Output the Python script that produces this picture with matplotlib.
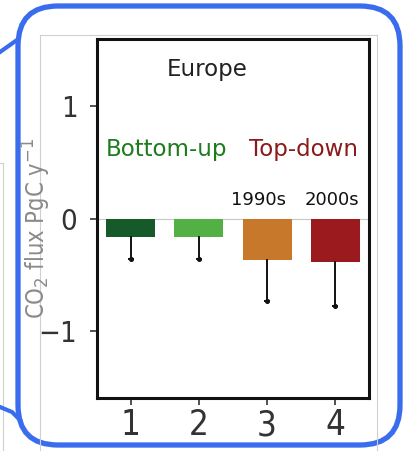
import matplotlib
matplotlib.use("Agg")
import matplotlib.pyplot as plt
from matplotlib.patches import FancyBboxPatch
from matplotlib.lines import Line2D

# Data
positions = [1, 2, 3, 4]
values = [-0.16, -0.16, -0.37, -0.39]
err_lower = [0.20, 0.20, 0.36, 0.39]
bar_colors = ["#175a2a", "#52b044", "#c8782a", "#9b1a1e"]
xtick_labels = ["1", "2", "3", "4"]
ytick_vals = [-1, 0, 1]
ytick_labels = ["\u22121", "0", "1"]

W, H = 404, 451
fig = plt.figure(figsize=(W / 100, H / 100), dpi=100)
fig.patch.set_facecolor("white")

# background decoration axes (pixel coords)
bg = fig.add_axes([0, 0, 1, 1])
bg.set_xlim(0, W)
bg.set_ylim(H, 0)
bg.axis("off")
gray = "#d0d0d0"
bg.add_line(Line2D([40, 40], [35, 451], color=gray, lw=0.8))
bg.add_line(Line2D([40, 377], [35, 35], color=gray, lw=0.8))
bg.add_line(Line2D([377, 377], [35, 451], color=gray, lw=0.8))
bg.add_line(Line2D([3, 3], [163, 451], color=gray, lw=0.8))
bg.add_line(Line2D([0, 3], [163, 163], color=gray, lw=0.8))
blue = "#3a6ded"
box = FancyBboxPatch((18, 6), 382, 439, boxstyle="round,pad=0,rounding_size=40",
                     fill=False, edgecolor=blue, lw=3.8)
bg.add_patch(box)
bg.add_line(Line2D([0, 17], [52, 40], color=blue, lw=3.0))
bg.add_line(Line2D([0, 12, 20], [407, 412, 420], color=blue, lw=3.0))

narrow = ["Liberation Sans Narrow", "DejaVu Sans"]

ax = fig.add_axes([96.7 / W, 1 - 398.3 / H, (369.3 - 96.7) / W, (398.3 - 39) / H])
ax.set_xlim(0.5, 4.5)
ax.set_ylim(-1.6, 1.6)
ax.axhline(0, color="#c8c8c8", lw=0.8, zorder=1)
ax.bar(positions, values, width=0.72, color=bar_colors, zorder=2)
for x, v, e in zip(positions, values, err_lower):
    ax.plot([x, x], [v, v - e], color="#111111", lw=1.4, zorder=3)
    ax.plot([x], [v - e], marker="o", ms=2.6, color="#111111", zorder=3)
    ax.plot([x], [v - e], marker="_", ms=4, mew=1.4, color="#111111", zorder=3)

for s in ax.spines.values():
    s.set_linewidth(2.2)
    s.set_color("#111111")

ax.set_xticks(positions)
ax.set_xticklabels(xtick_labels, family=narrow, stretch="condensed", fontsize=25, color="#333333")
ax.set_yticks(ytick_vals)
ax.set_yticklabels(ytick_labels, family=narrow, stretch="condensed", fontsize=21, color="#333333")
ax.tick_params(axis="y", length=5, width=1.2, pad=9, colors="#333333")
ax.tick_params(axis="x", length=5, width=1.2, pad=2, colors="#333333")

ax.set_ylabel("CO$_2$ flux PgC y$^{-1}$", family=narrow, stretch="condensed", fontsize=17, color="#8a8a8a")
ax.yaxis.set_label_coords((53 - 96.7) / (369.3 - 96.7), (398.3 - 228) / (398.3 - 39))

txt = ["DejaVu Sans"]
ax.text(2.12, 1.33, "Europe", ha="center", va="center", fontsize=16.5, family=txt, color="#222222")
ax.text(1.53, 0.556, "Bottom-up", ha="center", va="baseline", fontsize=16.5, family=txt, color="#1e7b1e")
ax.text(3.54, 0.556, "Top-down", ha="center", va="baseline", fontsize=16.5, family=txt, color="#8b1a1a")
ax.text(2.88, 0.119, "1990s", ha="center", va="baseline", fontsize=13, family=txt, color="#111111")
ax.text(3.95, 0.119, "2000s", ha="center", va="baseline", fontsize=13, family=txt, color="#111111")

fig.savefig("out.png", dpi=100)
